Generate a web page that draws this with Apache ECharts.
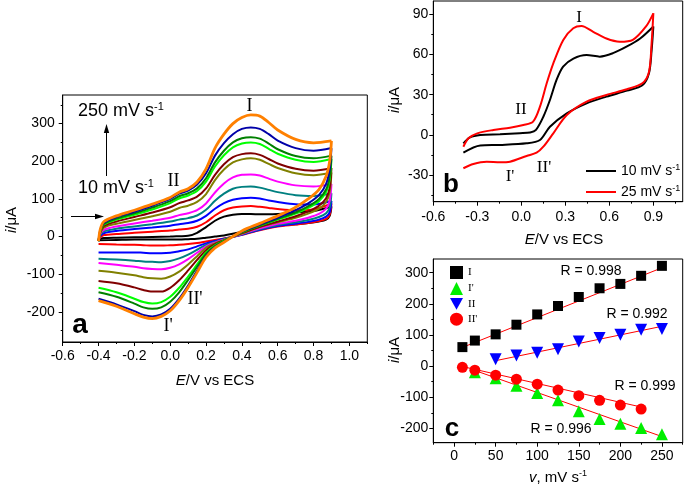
<!DOCTYPE html>
<html><head><meta charset="utf-8">
<script src="https://cdn.jsdelivr.net/npm/echarts@6/dist/echarts.min.js"></script>
<style>html,body{margin:0;padding:0;background:#fff}#c{width:685px;height:491px}</style>
</head><body><div id="c"></div>
<script>
// ---------- Panel a : CVs at different scan rates ----------
const rates = [10, 25, 50, 75, 100, 125, 150, 175, 200, 225, 250];
const rateColors = ['#000000','#ff0000','#0000ff','#008080','#ff00ff','#808000','#800000','#00ff00','#008000','#0000a8','#ff8000'];
const E_AN = [-0.4, -0.39, -0.37, -0.3, -0.2, -0.1, 0.0, 0.05, 0.1, 0.15, 0.2, 0.25, 0.3, 0.35, 0.4, 0.45, 0.5, 0.55, 0.6, 0.7, 0.8, 0.9];
const E_CA = [0.9, 0.89, 0.87, 0.83, 0.77, 0.7, 0.6, 0.5, 0.4, 0.3, 0.25, 0.2, 0.15, 0.1, 0.05, 0.0, -0.05, -0.1, -0.15, -0.2, -0.3, -0.4];

const an10  = [-9, -6, -4, -3, -2, -1, 0, 1, 2, 10, 25, 42, 53, 58, 60, 60, 59, 59, 60, 64, 68, 80];
const an25  = [-10, -2, 4, 7, 10, 13, 16, 19, 21, 26, 38, 56, 70, 77, 80, 81, 79, 76, 73, 70, 72, 88];
const an50  = [-10, 2, 9, 15, 20, 24, 29, 33, 36, 42, 55, 74, 89, 98, 102, 103, 101, 96, 92, 86, 85, 95];
const an75  = [-11, 5, 14, 21, 27, 33, 40, 45, 49, 56, 71, 95, 114, 127, 132, 133, 130, 124, 118, 110, 108, 115];
const an100 = [-11, 8, 18, 27, 35, 42, 50, 57, 62, 70, 88, 117, 141, 157, 164, 165, 162, 154, 146, 136, 133, 140];
const an125 = [-12, 10, 24, 34, 44, 54, 66, 76, 82, 92, 113, 150, 178, 197, 205, 208, 204, 193, 182, 168, 163, 170];
const an150 = [-12, 12, 28, 40, 52, 64, 78, 89, 96, 106, 128, 164, 192, 211, 219, 221, 217, 206, 194, 180, 175, 182];
const an175 = [-12, 14, 32, 45, 58, 72, 89, 101, 109, 121, 146, 186, 216, 237, 247, 250, 246, 233, 220, 204, 198, 206];
const an200 = [-12, 15, 34, 48, 62, 77, 94, 107, 115, 128, 155, 197, 228, 250, 261, 264, 260, 247, 232, 214, 208, 215];
const an225 = [-12, 18, 37, 52, 66, 82, 100, 114, 122, 138, 168, 215, 248, 272, 286, 290, 286, 272, 255, 235, 228, 235];
const an250 = [-12, 20, 40, 55, 70, 86, 104, 118, 127, 145, 180, 235, 272, 300, 316, 323, 320, 303, 283, 258, 249, 254];

const ca10  = [80, 55, 45, 40, 36, 33, 29, 22, 12, 3, 0, -3, -6, -7, -8, -8, -8, -8, -8, -8, -9, -10];
const ca25  = [88, 58, 47, 41, 36, 32, 27, 17, 5, -5, -9, -13, -17, -20, -22, -23, -24, -24, -23, -22, -21, -20];
const ca50  = [95, 65, 53, 45, 39, 34, 28, 18, 5, -6, -12, -18, -26, -34, -39, -43, -44, -44, -43, -42, -42, -42];
const ca75  = [115, 78, 62, 52, 44, 38, 31, 20, 6, -7, -14, -22, -35, -48, -58, -65, -68, -67, -66, -64, -61, -59];
const ca100 = [140, 95, 74, 60, 50, 42, 34, 22, 7, -8, -16, -26, -43, -60, -74, -83, -87, -86, -84, -80, -75, -70];
const ca125 = [170, 118, 92, 74, 61, 50, 38, 25, 8, -9, -18, -30, -52, -74, -93, -106, -112, -111, -108, -103, -96, -91];
const ca150 = [182, 130, 102, 82, 67, 54, 40, 26, 9, -10, -20, -36, -62, -90, -116, -136, -146, -146, -142, -135, -124, -118];
const ca175 = [206, 150, 118, 94, 76, 61, 45, 29, 11, -11, -23, -42, -74, -106, -136, -160, -174, -178, -174, -165, -148, -136];
const ca200 = [215, 160, 125, 100, 80, 64, 47, 30, 12, -12, -25, -46, -80, -115, -148, -173, -188, -192, -188, -178, -160, -148];
const ca225 = [235, 180, 140, 110, 88, 70, 50, 32, 13, -14, -28, -52, -90, -130, -165, -192, -207, -212, -208, -198, -180, -165];
const ca250 = [254, 200, 160, 125, 100, 78, 55, 35, 15, -15, -30, -55, -95, -135, -170, -197, -212, -218, -214, -205, -185, -170];

const anodic = [an10, an25, an50, an75, an100, an125, an150, an175, an200, an225, an250];
const cathodic = [ca10, ca25, ca50, ca75, ca100, ca125, ca150, ca175, ca200, ca225, ca250];

// ---------- Panel b : 10 and 25 mV/s ----------
const bE_an10 = [-0.395, -0.35, -0.28, -0.145, -0.01, 0.06, 0.1, 0.15, 0.195, 0.24, 0.285, 0.355, 0.445, 0.535, 0.625, 0.72, 0.81, 0.9];
const bI_an10 = [-6.4, -1.9, -0.1, 0.4, 1.2, 1.7, 3.7, 13.5, 26, 41, 51, 57, 59.6, 58.4, 61, 66, 72, 81];
const bE_ca10 = [0.9, 0.888, 0.87, 0.825, 0.72, 0.58, 0.445, 0.31, 0.195, 0.127, 0.036, -0.145, -0.28, -0.395];
const bI_ca10 = [81, 63, 46, 37, 33, 28.5, 23.5, 16, 6, -3.9, -6.4, -7.6, -8, -13.4];
const bE_an25 = [-0.395, -0.36, -0.3, -0.19, -0.077, 0.014, 0.08, 0.127, 0.173, 0.218, 0.286, 0.354, 0.41, 0.49, 0.58, 0.67, 0.76, 0.85, 0.9];
const bI_an25 = [-8.9, -2.6, 1.1, 3.6, 5.3, 7.3, 9.8, 21, 38.5, 53.4, 70.9, 79.6, 81.3, 77, 72, 69.6, 71, 81, 90.8];
const bE_ca25 = [0.9, 0.888, 0.87, 0.825, 0.72, 0.58, 0.445, 0.31, 0.218, 0.15, 0.104, 0.036, -0.077, -0.145, -0.236, -0.327, -0.395];
const bI_ca25 = [90.8, 68.4, 47, 38.5, 34, 29.8, 24.8, 14.8, 1.1, -8.9, -13.4, -15.8, -20.1, -20.6, -20.1, -21.8, -25];

// ---------- Panel c : peak currents vs scan rate ----------
const vI = [10, 25, 50, 75, 100, 125, 150, 175, 200, 225, 250];
const ipI = [61, 82, 102, 133, 166, 193, 222, 250, 264, 290, 322];
const vIp = [25, 50, 75, 100, 125, 150, 175, 200, 225, 250];
const ipIp = [-20, -39, -63, -86, -110, -145, -170, -185, -199, -219];
const vII = [50, 75, 100, 125, 150, 175, 200, 225, 250];
const ipII = [22, 34, 43, 54, 79, 90, 101, 117, 119];
const vIIp = [10, 25, 50, 75, 100, 125, 150, 175, 200, 225];
const ipIIp = [-4, -13, -29, -42, -58, -77, -95, -110, -125, -138];
const fitIx = [9, 254],  fitIy = [59, 320];
const fitIpx = [26, 254], fitIpy = [-15, -230];
const fitIIx = [51, 254], fitIIy = [18, 130];
const fitIIpx = [11, 226], fitIIpy = [-2, -132];

// tick values
const aXMajor = [-0.6, -0.4, -0.2, 0.0, 0.2, 0.4, 0.6, 0.8, 1.0];
const aXMinor = [-0.5, -0.3, -0.1, 0.1, 0.3, 0.5, 0.7, 0.9, 1.1];
const aYMajor = [-200, -100, 0, 100, 200, 300];
const aYMinor = [-250, -150, -50, 50, 150, 250, 350];
const bXMajor = [-0.6, -0.3, 0.0, 0.3, 0.6, 0.9];
const bXMinor = [-0.45, -0.15, 0.15, 0.45, 0.75, 1.05];
const bYMajor = [-30, 0, 30, 60, 90];
const bYMinor = [-45, -15, 15, 45, 75];
const cXMajor = [0, 50, 100, 150, 200, 250];
const cXMinor = [-25, 25, 75, 125, 175, 225, 275];
const cYMajor = [-200, -100, 0, 100, 200, 300];
const cYMinor = [-150, -50, 50, 150, 250];

const SANS = '"Liberation Sans", Arial, sans-serif';
const SERIF = '"Liberation Serif", "Times New Roman", serif';

function xAxes(grid, min, max, major, minor, fmt, margin) {
  return [
    { type: 'value', gridIndex: grid, position: 'bottom', min, max,
      axisLine: { show: true, onZero: false, lineStyle: { color: '#000', width: 1 } },
      axisTick: { show: true, customValues: major, length: 4, lineStyle: { color: '#000' } },
      axisLabel: { customValues: major, formatter: fmt, color: '#000', fontSize: 14, fontFamily: SANS, margin },
      splitLine: { show: false } },
    { type: 'value', gridIndex: grid, position: 'bottom', min, max,
      axisLine: { show: false, onZero: false },
      axisTick: { show: true, customValues: minor, length: 2, lineStyle: { color: '#000' } },
      axisLabel: { show: false }, splitLine: { show: false } }
  ];
}
function yAxes(grid, min, max, major, minor, fmt, margin) {
  return [
    { type: 'value', gridIndex: grid, position: 'left', min, max,
      axisLine: { show: true, onZero: false, lineStyle: { color: '#000', width: 1 } },
      axisTick: { show: true, customValues: major, length: 4, lineStyle: { color: '#000' } },
      axisLabel: { customValues: major, formatter: fmt, color: '#000', fontSize: 14, fontFamily: SANS, margin },
      splitLine: { show: false } },
    { type: 'value', gridIndex: grid, position: 'left', offset: 0, min, max,
      axisLine: { show: false, onZero: false },
      axisTick: { show: true, customValues: minor, length: 2, lineStyle: { color: '#000' } },
      axisLabel: { show: false }, splitLine: { show: false } }
  ];
}
const f1 = v => v.toFixed(1);
const f0 = v => String(Math.round(v));

const series = [];
// panel a
rates.forEach((r, k) => {
  const w = k === rates.length - 1 ? 2.8 : 2;
  series.push({ type: 'line', xAxisIndex: 0, yAxisIndex: 0, showSymbol: false, smooth: 0.3, silent: true,
    data: E_AN.map((e, j) => [e, anodic[k][j]]), lineStyle: { color: rateColors[k], width: w }, z: 2 + k });
  series.push({ type: 'line', xAxisIndex: 0, yAxisIndex: 0, showSymbol: false, smooth: 0.3, silent: true,
    data: E_CA.map((e, j) => [e, cathodic[k][j]]), lineStyle: { color: rateColors[k], width: w }, z: 2 + k });
});
// panel b
const bLine = (name, E, I, color) => ({ name, type: 'line', xAxisIndex: 2, yAxisIndex: 2, showSymbol: false, smooth: 0.3,
  data: E.map((e, j) => [e, I[j]]), itemStyle: { color }, lineStyle: { color, width: 2 } });
series.push(bLine('10', bE_an10, bI_an10, '#000000'));
series.push(bLine('10', bE_ca10, bI_ca10, '#000000'));
series.push(bLine('25', bE_an25, bI_an25, '#ff0000'));
series.push(bLine('25', bE_ca25, bI_ca25, '#ff0000'));
// panel c fits
const fit = (xs, ys) => ({ type: 'line', xAxisIndex: 4, yAxisIndex: 4, showSymbol: false, silent: true,
  data: xs.map((x, j) => [x, ys[j]]), lineStyle: { color: '#ff0000', width: 1 }, z: 3 });
series.push(fit(fitIx, fitIy), fit(fitIpx, fitIpy), fit(fitIIx, fitIIy), fit(fitIIpx, fitIIpy));
const sc = (name, xs, ys, symbol, size, color) => ({ name, type: 'scatter', xAxisIndex: 4, yAxisIndex: 4,
  symbol, symbolSize: size, data: xs.map((x, j) => [x, ys[j]]), itemStyle: { color, opacity: 1 }, z: 4 });
const DOWN = 'path://M0,0L10,0L5,9Z';
series.push(sc('I', vI, ipI, 'rect', 10, '#000000'));
series.push(sc("I'", vIp, ipIp, 'triangle', 12, '#00ee00'));
series.push(sc('II', vII, ipII, DOWN, 12, '#0000ff'));
series.push(sc("II'", vIIp, ipIIp, 'circle', 11, '#ff0000'));

const supRich = (fs) => ({
  t: { fontSize: fs, fontFamily: SANS, color: '#000', lineHeight: fs + 2 },
  s: { fontSize: Math.round(fs * 0.62), fontFamily: SANS, color: '#000', verticalAlign: 'top', lineHeight: fs + 2 },
  i: { fontSize: fs, fontFamily: SANS, fontStyle: 'italic', color: '#000', lineHeight: fs + 2 }
});
function txt(x, y, text, opts) {
  opts = opts || {};
  return { type: 'text', x, y, rotation: opts.rot || 0, silent: true, z: 100,
    style: { text, fontSize: opts.fs || 14, fontFamily: opts.ff || SANS, fontWeight: opts.fw || 'normal',
      fill: '#000', align: opts.align || 'center', verticalAlign: 'middle', rich: opts.rich } };
}
const R18 = supRich(18), R15 = supRich(15);
const graphics = [
  // panel a annotations
  txt(78, 111, '{t|250 mV s}{s|-1}', { align: 'left', rich: R18 }),
  txt(78, 188, '{t|10 mV s}{s|-1}', { align: 'left', rich: R18 }),
  { type: 'line', shape: { x1: 106.5, y1: 176, x2: 106.5, y2: 131 }, style: { stroke: '#000', lineWidth: 1 } },
  { type: 'polygon', shape: { points: [[106.5, 124], [103.8, 133], [109.2, 133]] }, style: { fill: '#000' } },
  { type: 'line', shape: { x1: 71, y1: 216.5, x2: 97, y2: 216.5 }, style: { stroke: '#000', lineWidth: 1 } },
  { type: 'polygon', shape: { points: [[104, 216.5], [95, 213.8], [95, 219.2]] }, style: { fill: '#000' } },
  txt(249.5, 106, 'I', { ff: SERIF, fs: 18 }),
  txt(173.5, 181, 'II', { ff: SERIF, fs: 18 }),
  txt(195, 299, "II'", { ff: SERIF, fs: 18 }),
  txt(168, 326, "I'", { ff: SERIF, fs: 18 }),
  txt(80, 325, 'a', { fs: 28, fw: 'bold' }),
  txt(215, 381, '{i|E}{t|/V vs ECS}', { rich: R15 }),
  txt(12, 220, '{i|i}{t|/μA}', { rich: R15, rot: Math.PI / 2 }),
  // panel b
  txt(579, 18, 'I', { ff: SERIF, fs: 17 }),
  txt(521, 110, 'II', { ff: SERIF, fs: 17 }),
  txt(544, 168, "II'", { ff: SERIF, fs: 17 }),
  txt(510, 177, "I'", { ff: SERIF, fs: 17 }),
  txt(451, 185, 'b', { fs: 26, fw: 'bold' }),
  txt(564, 240, '{i|E}{t|/V vs ECS}', { rich: R15 }),
  txt(395, 100, '{i|i}{t|/μA}', { rich: R15, rot: Math.PI / 2 }),
  // panel c
  txt(591, 271, 'R = 0.998', { fs: 14 }),
  txt(637, 314, 'R = 0.992', { fs: 14 }),
  txt(645, 386, 'R = 0.999', { fs: 14 }),
  txt(561, 429, 'R = 0.996', { fs: 14 }),
  txt(452, 429, 'c', { fs: 26, fw: 'bold' }),
  txt(558, 478, '{i|v}{t|, mV s}{s|-1}', { rich: R15 }),
  txt(395, 350, '{i|i}{t|/μA}', { rich: R15, rot: Math.PI / 2 })
];

const option = {
  animation: false,
  backgroundColor: '#fff',
  grid: [
    { left: 62.7, top: 95, width: 304.6, height: 247, show: true, borderColor: '#000', borderWidth: 1, backgroundColor: 'transparent' },
    { left: 433.3, top: 1, width: 249.4, height: 200.7, show: true, borderColor: '#000', borderWidth: 1, backgroundColor: 'transparent' },
    { left: 433.3, top: 259, width: 249.4, height: 183.7, show: true, borderColor: '#000', borderWidth: 1, backgroundColor: 'transparent' }
  ],
  xAxis: [
    ...xAxes(0, -0.6, 1.1, aXMajor, aXMinor, f1, 7),
    ...xAxes(1, -0.6, 1.1, bXMajor, bXMinor, f1, 8),
    ...xAxes(2, -25, 275, cXMajor, cXMinor, f0, 6)
  ],
  yAxis: [
    ...yAxes(0, -280, 376, aYMajor, aYMinor, f0, 8),
    ...yAxes(1, -50, 100, bYMajor, bYMinor, f0, 5),
    ...yAxes(2, -246, 344, cYMajor, cYMinor, f0, 5)
  ],
  legend: [
    { data: ['10', '25'], left: 586, top: 163, orient: 'vertical', padding: 0, itemGap: 6,
      itemWidth: 30, itemHeight: 2, icon: 'rect', selectedMode: false,
      formatter: n => '{t|' + n + ' mV s}{s|-1}',
      textStyle: { fontSize: 14, fontFamily: SANS, color: '#000', rich: supRich(14) } },
    { data: [{ name: 'I', icon: 'rect' }, { name: "I'", icon: 'triangle' }, { name: 'II', icon: DOWN }, { name: "II'", icon: 'circle' }],
      left: 450, top: 266, orient: 'vertical', padding: 0, itemGap: 3,
      itemWidth: 13, itemHeight: 13, selectedMode: false,
      textStyle: { fontSize: 11, fontFamily: SERIF, color: '#000' } }
  ],
  series,
  graphic: graphics
};
const chart = echarts.init(document.getElementById('c'), null, { renderer: 'canvas' });
chart.setOption(option);
</script></body></html>
